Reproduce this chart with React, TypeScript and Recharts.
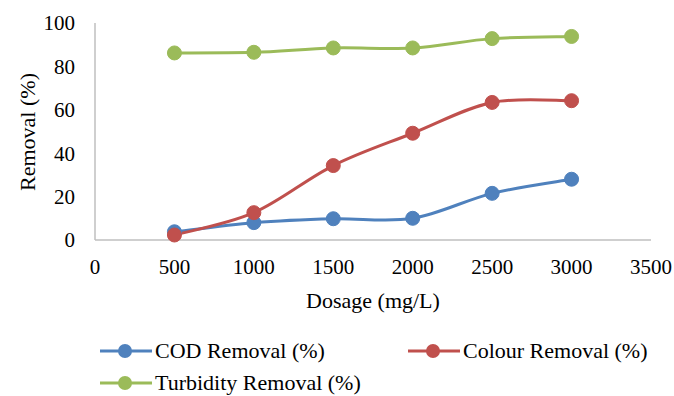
import React from 'react';
import { LineChart, Line, XAxis, YAxis, Legend } from 'recharts';

const dosage = [500, 1000, 1500, 2000, 2500, 3000];
const codRemoval = [3.8, 8.0, 9.8, 10.0, 21.5, 28.0];
const colourRemoval = [2.3, 12.6, 34.3, 49.2, 63.4, 64.2];
const turbidityRemoval = [86.2, 86.5, 88.5, 88.5, 92.8, 93.8];
const xTicks = [0, 500, 1000, 1500, 2000, 2500, 3000, 3500];
const yTicks = [0, 20, 40, 60, 80, 100];

const seriesNames = ['COD Removal (%)', 'Colour Removal (%)', 'Turbidity Removal (%)'];
const colors = ['#4F81BD', '#C0504D', '#9BBB59'];

const data = dosage.map((d, i) => ({
  dosage: d,
  cod: codRemoval[i],
  colour: colourRemoval[i],
  turbidity: turbidityRemoval[i],
}));

const FONT = '"Liberation Serif", "Times New Roman", serif';

// Catmull-Rom style smoothing (like Excel smoothed lines)
const smoothCurve: any = (context: any) => {
  let pts: number[][] = [];
  return {
    areaStart() {},
    areaEnd() {},
    lineStart() {
      pts = [];
    },
    point(x: number, y: number) {
      pts.push([+x, +y]);
    },
    lineEnd() {
      const n = pts.length;
      if (!n) return;
      context.moveTo(pts[0][0], pts[0][1]);
      const t = 1 / 6;
      for (let i = 0; i < n - 1; i++) {
        const p0 = pts[i - 1] || pts[i];
        const p1 = pts[i];
        const p2 = pts[i + 1];
        const p3 = pts[i + 2] || p2;
        context.bezierCurveTo(
          p1[0] + (p2[0] - p0[0]) * t,
          p1[1] + (p2[1] - p0[1]) * t,
          p2[0] - (p3[0] - p1[0]) * t,
          p2[1] - (p3[1] - p1[1]) * t,
          p2[0],
          p2[1]
        );
      }
    },
  };
};

const legendPos = [
  { left: 100, top: 16 },
  { left: 408, top: 16 },
  { left: 100, top: 48 },
];

const LegendContent = () => (
  <div style={{ position: 'relative', width: 674, height: 61, fontFamily: FONT }}>
    {seriesNames.map((name, i) => (
      <div
        key={name}
        style={{
          position: 'absolute',
          left: legendPos[i].left,
          top: legendPos[i].top - 15,
          height: 30,
          display: 'flex',
          alignItems: 'center',
          whiteSpace: 'nowrap',
        }}
      >
        <svg width={52} height={16} style={{ display: 'block' }}>
          <line x1={0} y1={8} x2={52} y2={8} stroke={colors[i]} strokeWidth={3} />
          <circle cx={25} cy={8} r={7} fill={colors[i]} />
        </svg>
        <span style={{ marginLeft: 3, fontSize: 22, color: '#000', lineHeight: '30px' }}>{name}</span>
      </div>
    ))}
  </div>
);

const YLabel = (props: any) => {
  const cx = 27;
  const cy = 132;
  return (
    <text
      x={cx}
      y={cy}
      transform={`rotate(-90, ${cx}, ${cy})`}
      textAnchor="middle"
      dominantBaseline="central"
      fontFamily={FONT}
      fontSize={22}
      fill="#000"
    >
      Removal (%)
    </text>
  );
};

export default function App() {
  return (
    <div style={{ position: 'absolute', left: 0, top: 0, width: 674, height: 396, background: '#fff' }}>
      <LineChart
        width={674}
        height={396}
        data={data}
        margin={{ top: 23, right: 23, bottom: 0, left: 0 }}
      >
        <XAxis
          dataKey="dosage"
          type="number"
          domain={[0, 3500]}
          ticks={xTicks}
          interval={0}
          height={156}
          tickLine={false}
          tickSize={0}
          tickMargin={19}
          axisLine={{ stroke: '#BFBFBF', strokeWidth: 1.5 }}
          tick={{ fill: '#000', fontSize: 21, fontFamily: FONT }}
          label={{
            value: 'Dosage (mg/L)',
            position: 'insideTop',
            offset: 52,
            fill: '#000',
            fontSize: 22,
            fontFamily: FONT,
          }}
        />
        <YAxis
          type="number"
          domain={[0, 100]}
          ticks={yTicks}
          interval={0}
          width={95}
          tickLine={false}
          tickSize={0}
          tickMargin={20}
          axisLine={{ stroke: '#BFBFBF', strokeWidth: 1.5 }}
          tick={{ fill: '#000', fontSize: 21, fontFamily: FONT }}
          label={<YLabel />}
        />
        <Legend
          layout="horizontal"
          verticalAlign="middle"
          align="center"
          content={<LegendContent />}
          wrapperStyle={{ top: 335, left: 0, width: 674, height: 61 }}
        />
        <Line
          dataKey="cod"
          name={seriesNames[0]}
          type={smoothCurve}
          stroke={colors[0]}
          strokeWidth={3}
          dot={{ r: 7, fill: colors[0], stroke: colors[0], strokeWidth: 1 }}
          activeDot={false}
          isAnimationActive={false}
        />
        <Line
          dataKey="colour"
          name={seriesNames[1]}
          type={smoothCurve}
          stroke={colors[1]}
          strokeWidth={3}
          dot={{ r: 7, fill: colors[1], stroke: colors[1], strokeWidth: 1 }}
          activeDot={false}
          isAnimationActive={false}
        />
        <Line
          dataKey="turbidity"
          name={seriesNames[2]}
          type={smoothCurve}
          stroke={colors[2]}
          strokeWidth={3}
          dot={{ r: 7, fill: colors[2], stroke: colors[2], strokeWidth: 1 }}
          activeDot={false}
          isAnimationActive={false}
        />
      </LineChart>
    </div>
  );
}
